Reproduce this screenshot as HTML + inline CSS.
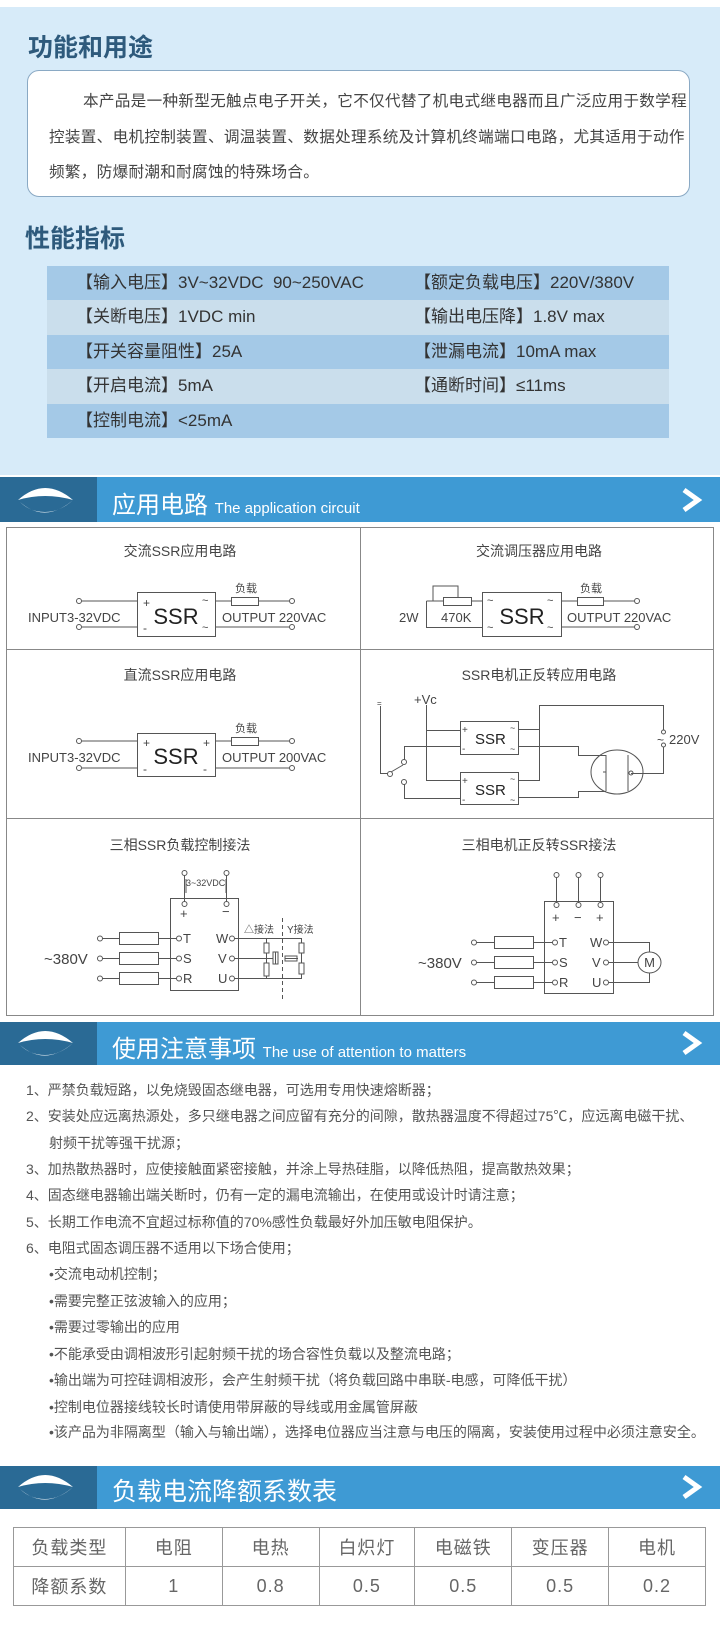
<!DOCTYPE html>
<html><head><meta charset="utf-8">
<style>
*{margin:0;padding:0;box-sizing:border-box}
body{width:720px;height:1630px;position:relative;background:#fff;font-family:"Liberation Sans","Noto Sans CJK SC",sans-serif;overflow:hidden}
.a{position:absolute;white-space:nowrap}
.bg{position:absolute;left:0;top:7px;width:720px;height:468px;background:#d7ebf9}
.h1{font-size:25px;font-weight:bold;color:#2e5a7c}
.box{position:absolute;left:27px;top:70px;width:663px;height:127px;background:#fff;border:1px solid #8aa9c4;border-radius:12px}
.p{font-size:15.6px;color:#444;letter-spacing:0.3px}
.spec{position:absolute;left:47px;width:622px;height:34.4px}
.st{font-size:17px;color:#333;line-height:34px}
.hb{position:absolute;left:0;width:720px;background:#3e9ad4}
.hb .d{position:absolute;left:0;top:0;width:97px;height:100%;background:#2a6a95}
.ht{color:#fff;position:absolute;left:112px;white-space:nowrap}
.n{font-size:14px;color:#555}
table{position:absolute;left:13px;top:1527px;width:693px;height:79px;border-collapse:collapse}
td{border:1px solid #999;text-align:center;font-size:18px;color:#666;letter-spacing:1px}
</style></head><body>
<div class="bg"></div>
<div class="a h1" style="left:28px;top:28px">功能和用途</div>
<div class="box"></div>
<div class="a p" style="left:83px;top:89px">本产品是一种新型无触点电子开关，它不仅代替了机电式继电器而且广泛应用于数学程</div>
<div class="a p" style="left:49px;top:125px">控装置、电机控制装置、调温装置、数据处理系统及计算机终端端口电路，尤其适用于动作</div>
<div class="a p" style="left:49px;top:160px">频繁，防爆耐潮和耐腐蚀的特殊场合。</div>
<div class="a h1" style="left:25px;top:219px">性能指标</div>
<div class="spec" style="top:266px;background:#a4c9e7"></div>
<div class="spec" style="top:300.4px;background:#cadeec"></div>
<div class="spec" style="top:334.8px;background:#a4c9e7"></div>
<div class="spec" style="top:369.2px;background:#cadeec"></div>
<div class="spec" style="top:403.6px;background:#a4c9e7"></div>
<div class="a st" style="left:76px;top:266px">【输入电压】3V~32VDC&nbsp; 90~250VAC</div>
<div class="a st" style="left:414px;top:266px">【额定负载电压】220V/380V</div>
<div class="a st" style="left:76px;top:300px">【关断电压】1VDC min</div>
<div class="a st" style="left:414px;top:300px">【输出电压降】1.8V max</div>
<div class="a st" style="left:76px;top:335px">【开关容量阻性】25A</div>
<div class="a st" style="left:414px;top:335px">【泄漏电流】10mA max</div>
<div class="a st" style="left:76px;top:369px">【开启电流】5mA</div>
<div class="a st" style="left:414px;top:369px">【通断时间】≤11ms</div>
<div class="a st" style="left:76px;top:404px">【控制电流】&lt;25mA</div>

<div class="hb" style="top:477px;height:45px"><div class="d"></div>
<div class="ht" style="top:8px;font-size:24px">应用电路 <span style="font-size:15px">The application circuit</span></div></div>
<div class="hb" style="top:1022px;height:43px"><div class="d"></div>
<div class="ht" style="top:7px;font-size:24px">使用注意事项 <span style="font-size:15px">The use of attention to matters</span></div></div>
<div class="hb" style="top:1466px;height:43px"><div class="d"></div>
<div class="ht" style="top:6px;font-size:25px">负载电流降额系数表</div></div>

<svg class="a" style="left:0;top:0" width="720" height="1630" viewBox="0 0 720 1630">
<g fill="#fff">
 <path d="M18 500 Q45 476 73 500 Q45 492 18 500Z"/><path d="M20 502 Q45 524 73 500 Q60 512 45 512 Q30 512 20 502Z"/>
 <path d="M18 1043 Q45 1019 73 1043 Q45 1035 18 1043Z"/><path d="M20 1045 Q45 1067 73 1043 Q60 1055 45 1055 Q30 1055 20 1045Z"/>
 <path d="M18 1487 Q45 1463 73 1487 Q45 1479 18 1487Z"/><path d="M20 1489 Q45 1511 73 1487 Q60 1499 45 1499 Q30 1499 20 1489Z"/>
</g>
<g fill="none" stroke="#fff" stroke-width="5" stroke-linejoin="miter">
 <path d="M684 490 L698 500 L684 510"/><path d="M684 1033 L698 1043 L684 1053"/><path d="M684 1477 L698 1487 L684 1497"/>
</g>
<g fill="none" stroke="#888" stroke-width="1">
 <rect x="6.5" y="527.5" width="707" height="488"/>
 <line x1="360.5" y1="527" x2="360.5" y2="1015"/>
 <line x1="6" y1="649.5" x2="714" y2="649.5"/>
 <line x1="6" y1="818.5" x2="714" y2="818.5"/>
</g>
<g font-family="Liberation Sans,Noto Sans CJK SC,sans-serif" fill="#444" font-size="14" text-anchor="middle">
 <text x="180" y="556">交流SSR应用电路</text>
 <text x="539" y="556">交流调压器应用电路</text>
 <text x="180" y="680">直流SSR应用电路</text>
 <text x="539" y="680">SSR电机正反转应用电路</text>
 <text x="180" y="850">三相SSR负载控制接法</text>
 <text x="539" y="850">三相电机正反转SSR接法</text>
</g>
<g fill="none" stroke="#555" stroke-width="1">
 <rect x="137.5" y="592.5" width="78" height="44"/>
 <path d="M82 601H137M82 627H137M215 601H231M258 601H289M215 627H289"/>
 <rect x="231.5" y="597.5" width="27" height="8"/>
 <circle cx="79" cy="601" r="2.5"/><circle cx="79" cy="627" r="2.5"/><circle cx="292" cy="601" r="2.5"/><circle cx="292" cy="627" r="2.5"/>
 <rect x="137.5" y="733.5" width="78" height="43"/>
 <path d="M82 741H137M82 768H137M215 741H231M258 741H289M215 768H289"/>
 <rect x="231.5" y="737.5" width="27" height="8"/>
 <circle cx="79" cy="741" r="2.5"/><circle cx="79" cy="768" r="2.5"/><circle cx="292" cy="741" r="2.5"/><circle cx="292" cy="768" r="2.5"/>
 <rect x="482.5" y="592.5" width="79" height="44"/>
 <path d="M426.5 601V627.5H482M426.5 601H443M471 601H482M458 598V586H433V601M561 601H577M603 601H634M561 627H634"/>
 <rect x="443.5" y="597.5" width="28" height="8"/>
 <rect x="577.5" y="597.5" width="26" height="8"/>
 <circle cx="637" cy="601" r="2.5"/><circle cx="637" cy="627" r="2.5"/>
 <rect x="460.5" y="721.5" width="58" height="33"/>
 <rect x="460.5" y="772.5" width="58" height="32"/>
 <path d="M380.5 706V773.5H388"/>
 <path d="M391 772L403 765"/>
 <path d="M404.5 760V746.5H460M404.5 784V798.5H460"/>
 <path d="M426.5 705V780.5H460M426.5 730.5H460"/>
 <path d="M518 729.5H539.5V705.5H663.5V730M539.5 729V780.5H518"/>
 <path d="M663.5 747V773.5H631"/>
 <path d="M518 746.5H578.5V755.5H606M518 797.5H578.5V791.5H606"/>
 <ellipse cx="617" cy="772" rx="26" ry="22"/>
 <path d="M606 755V791M628 755V791M606 772H603"/>
 <circle cx="390" cy="774" r="2.5"/><circle cx="404" cy="762" r="2.5"/><circle cx="404" cy="782" r="2.5"/>
 <circle cx="663.5" cy="732" r="2"/><circle cx="663.5" cy="745" r="2"/><circle cx="631" cy="773" r="2"/>
 <rect x="170.5" y="898.5" width="68" height="92"/>
 <path d="M184.5 875V902M226.5 875V902M186 879V893M226 879V893"/>
 <circle cx="184.5" cy="873" r="2.5"/><circle cx="226.5" cy="873" r="2.5"/><circle cx="184.5" cy="904" r="2.5"/><circle cx="226.5" cy="904" r="2.5"/>
 <path d="M102 938.5H119M158 938.5H177M102 958.5H119M158 958.5H177M102 978.5H119M158 978.5H177"/>
 <rect x="119.5" y="932.5" width="39" height="12"/><rect x="119.5" y="952.5" width="39" height="12"/><rect x="119.5" y="972.5" width="39" height="12"/>
 <circle cx="100" cy="938.5" r="2.5"/><circle cx="100" cy="958.5" r="2.5"/><circle cx="100" cy="978.5" r="2.5"/>
 <circle cx="179" cy="938.5" r="2.5"/><circle cx="179" cy="958.5" r="2.5"/><circle cx="179" cy="978.5" r="2.5"/>
 <circle cx="232" cy="938.5" r="2.5"/><circle cx="232" cy="958.5" r="2.5"/><circle cx="232" cy="978.5" r="2.5"/>
 <path d="M234 938.5H301.5V943M234 958.5H273M234 978.5H301.5V974M266.5 938.5V943M266.5 953V963M266.5 976V978.5M275.5 952V964M301.5 953V963M285 958.5H298"/>
 <rect x="264" y="943" width="5" height="10"/><rect x="264" y="963" width="5" height="13"/><rect x="273" y="952" width="5" height="12"/>
 <rect x="299" y="943" width="5" height="10"/><rect x="299" y="963" width="5" height="11"/><rect x="285" y="956" width="12" height="5"/>
 <path d="M282.5 918V1000" stroke-dasharray="4 3"/>
 <rect x="544.5" y="901.5" width="69" height="92"/>
 <path d="M556.5 877V903M578.5 877V903M600.5 877V903"/>
 <circle cx="556.5" cy="875" r="2.5"/><circle cx="578.5" cy="875" r="2.5"/><circle cx="600.5" cy="875" r="2.5"/>
 <circle cx="556.5" cy="905" r="2.5"/><circle cx="578.5" cy="905" r="2.5"/><circle cx="600.5" cy="905" r="2.5"/>
 <path d="M476 942.5H494M533 942.5H553M476 962.5H494M533 962.5H553M476 982.5H494M533 982.5H553"/>
 <rect x="494.5" y="936.5" width="39" height="12"/><rect x="494.5" y="956.5" width="39" height="12"/><rect x="494.5" y="976.5" width="39" height="12"/>
 <circle cx="474" cy="942.5" r="2.5"/><circle cx="474" cy="962.5" r="2.5"/><circle cx="474" cy="982.5" r="2.5"/>
 <circle cx="555" cy="942.5" r="2.5"/><circle cx="555" cy="962.5" r="2.5"/><circle cx="555" cy="982.5" r="2.5"/>
 <circle cx="606" cy="942.5" r="2.5"/><circle cx="606" cy="962.5" r="2.5"/><circle cx="606" cy="982.5" r="2.5"/>
 <path d="M608 942.5H649.5V952M608 962.5H638M608 982.5H649.5V973"/>
 <ellipse cx="649.5" cy="962.5" rx="11.5" ry="10.5"/>
</g>
<g font-family="Liberation Sans,Noto Sans CJK SC,sans-serif" fill="#444" font-size="13">
 <text x="28" y="622">INPUT3-32VDC</text><text x="222" y="622">OUTPUT 220VAC</text>
 <text x="235" y="592" font-size="11">负载</text>
 <text x="176" y="624" font-size="22" text-anchor="middle" fill="#222">SSR</text>
 <text x="143" y="607" font-size="12">+</text><text x="143" y="632" font-size="12">-</text>
 <text x="202" y="604" font-size="11">~</text><text x="202" y="631" font-size="11">~</text>
 <text x="28" y="762">INPUT3-32VDC</text><text x="222" y="762">OUTPUT 200VAC</text>
 <text x="235" y="732" font-size="11">负载</text>
 <text x="176" y="764" font-size="22" text-anchor="middle" fill="#222">SSR</text>
 <text x="143" y="747" font-size="12">+</text><text x="143" y="773" font-size="12">-</text>
 <text x="203" y="747" font-size="12">+</text><text x="203" y="773" font-size="12">-</text>
 <text x="399" y="622">2W</text><text x="441" y="622">470K</text>
 <text x="567" y="622">OUTPUT 220VAC</text>
 <text x="580" y="592" font-size="11">负载</text>
 <text x="522" y="624" font-size="22" text-anchor="middle" fill="#222">SSR</text>
 <text x="487" y="604" font-size="11">~</text><text x="487" y="631" font-size="11">~</text>
 <text x="547" y="604" font-size="11">~</text><text x="547" y="631" font-size="11">~</text>
 <text x="414" y="704">+Vc</text><text x="377" y="706" font-size="8">=</text>
 <text x="462" y="733" font-size="10">+</text><text x="462" y="752" font-size="10">-</text>
 <text x="475" y="744" font-size="15" fill="#222">SSR</text>
 <text x="462" y="784" font-size="10">+</text><text x="462" y="803" font-size="10">-</text>
 <text x="475" y="795" font-size="15" fill="#222">SSR</text>
 <text x="510" y="731" font-size="9">~</text><text x="510" y="752" font-size="9">~</text>
 <text x="510" y="782" font-size="9">~</text><text x="510" y="803" font-size="9">~</text>
 <text x="657" y="744" font-size="12">~</text><text x="669" y="744">220V</text>
 <text x="186" y="886" font-size="9">3~32VDC</text>
 <text x="180" y="918" font-size="13">+</text><text x="222" y="916" font-size="13">−</text>
 <text x="44" y="964" font-size="15">~380V</text>
 <text x="183" y="943">T</text><text x="183" y="963">S</text><text x="183" y="983">R</text>
 <text x="216" y="943">W</text><text x="218" y="963">V</text><text x="218" y="983">U</text>
 <text x="244" y="933" font-size="10">△接法</text><text x="287" y="933" font-size="10">Y接法</text>
 <text x="552" y="922" font-size="13">+</text><text x="574" y="922" font-size="13">−</text><text x="596" y="922" font-size="13">+</text>
 <text x="418" y="968" font-size="15">~380V</text>
 <text x="559" y="947">T</text><text x="559" y="967">S</text><text x="559" y="987">R</text>
 <text x="590" y="947">W</text><text x="592" y="967">V</text><text x="592" y="987">U</text>
 <text x="649.5" y="967" font-size="13" text-anchor="middle">M</text>
</g>
</svg>

<div class="a n" style="left:26px;top:1080px">1、严禁负载短路，以免烧毁固态继电器，可选用专用快速熔断器；</div>
<div class="a n" style="left:26px;top:1106px">2、安装处应远离热源处，多只继电器之间应留有充分的间隙，散热器温度不得超过75℃，应远离电磁干扰、</div>
<div class="a n" style="left:49px;top:1133px">射频干扰等强干扰源；</div>
<div class="a n" style="left:26px;top:1159px">3、加热散热器时，应使接触面紧密接触，并涂上导热硅脂，以降低热阻，提高散热效果；</div>
<div class="a n" style="left:26px;top:1185px">4、固态继电器输出端关断时，仍有一定的漏电流输出，在使用或设计时请注意；</div>
<div class="a n" style="left:26px;top:1212px">5、长期工作电流不宜超过标称值的70%感性负载最好外加压敏电阻保护。</div>
<div class="a n" style="left:26px;top:1238px">6、电阻式固态调压器不适用以下场合使用；</div>
<div class="a n" style="left:49px;top:1264px">•交流电动机控制；</div>
<div class="a n" style="left:49px;top:1291px">•需要完整正弦波输入的应用；</div>
<div class="a n" style="left:49px;top:1317px">•需要过零输出的应用</div>
<div class="a n" style="left:49px;top:1344px">•不能承受由调相波形引起射频干扰的场合容性负载以及整流电路；</div>
<div class="a n" style="left:49px;top:1370px">•输出端为可控硅调相波形，会产生射频干扰（将负载回路中串联-电感，可降低干扰）</div>
<div class="a n" style="left:49px;top:1397px">•控制电位器接线较长时请使用带屏蔽的导线或用金属管屏蔽</div>
<div class="a n" style="left:49px;top:1422px">•该产品为非隔离型（输入与输出端），选择电位器应当注意与电压的隔离，安装使用过程中必须注意安全。</div>

<table>
<colgroup><col style="width:112px"><col style="width:97px"><col style="width:97px"><col style="width:96px"><col style="width:97px"><col style="width:97px"><col style="width:97px"></colgroup>
<tr><td>负载类型</td><td>电阻</td><td>电热</td><td>白炽灯</td><td>电磁铁</td><td>变压器</td><td>电机</td></tr>
<tr><td>降额系数</td><td>1</td><td>0.8</td><td>0.5</td><td>0.5</td><td>0.5</td><td>0.2</td></tr>
</table>
</body></html>
